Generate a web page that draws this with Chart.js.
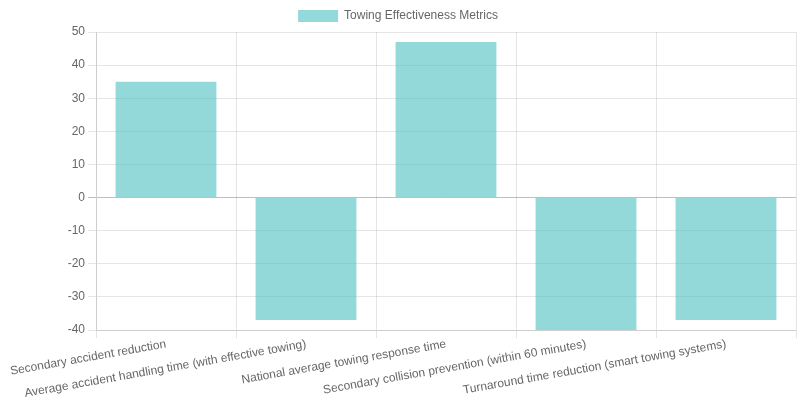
<!DOCTYPE html>
<html>
<head>
<meta charset="utf-8">
<script src="https://cdn.jsdelivr.net/npm/chart.js@4"></script>
<style>
  html, body { margin: 0; padding: 0; background: #fff; }
  #wrap { width: 800px; height: 400px; }
</style>
</head>
<body>
<div id="wrap"><canvas id="chart"></canvas></div>
<script>
const CATEGORIES = [
  'Secondary accident reduction',
  'Average accident handling time (with effective towing)',
  'National average towing response time',
  'Secondary collision prevention (within 60 minutes)',
  'Turnaround time reduction (smart towing systems)',
];

const METRIC_VALUES = [35, -37, 47, -40, -37];

const SERIES_LABEL = 'Towing Effectiveness Metrics';

new Chart(document.getElementById('chart'), {
  type: 'bar',
  data: {
    labels: CATEGORIES,
    datasets: [{
      label: SERIES_LABEL,
      data: METRIC_VALUES,
      backgroundColor: 'rgba(75, 192, 192, 0.6)',
      borderColor: 'rgba(75, 192, 192, 0.6)',
      borderWidth: 0,
    }],
  },
  options: {
    responsive: true,
    maintainAspectRatio: false,
    animation: false,
    layout: { padding: { right: 4 } },
    scales: {
      x: {
        ticks: { minRotation: 10, maxRotation: 10, padding: -1 },
        afterFit: scale => { scale.height = 70; },
      },
      y: {
        min: -40,
        max: 50,
        ticks: { stepSize: 10 },
        afterFit: scale => { scale.width = 96; },
        grid: {
          // zero line drawn darker, like the axis border
          color: ctx => ctx.tick && ctx.tick.value === 0 ? 'rgba(0, 0, 0, 0.25)' : 'rgba(0, 0, 0, 0.1)',
        },
      },
    },
  },
});
</script>
</body>
</html>
